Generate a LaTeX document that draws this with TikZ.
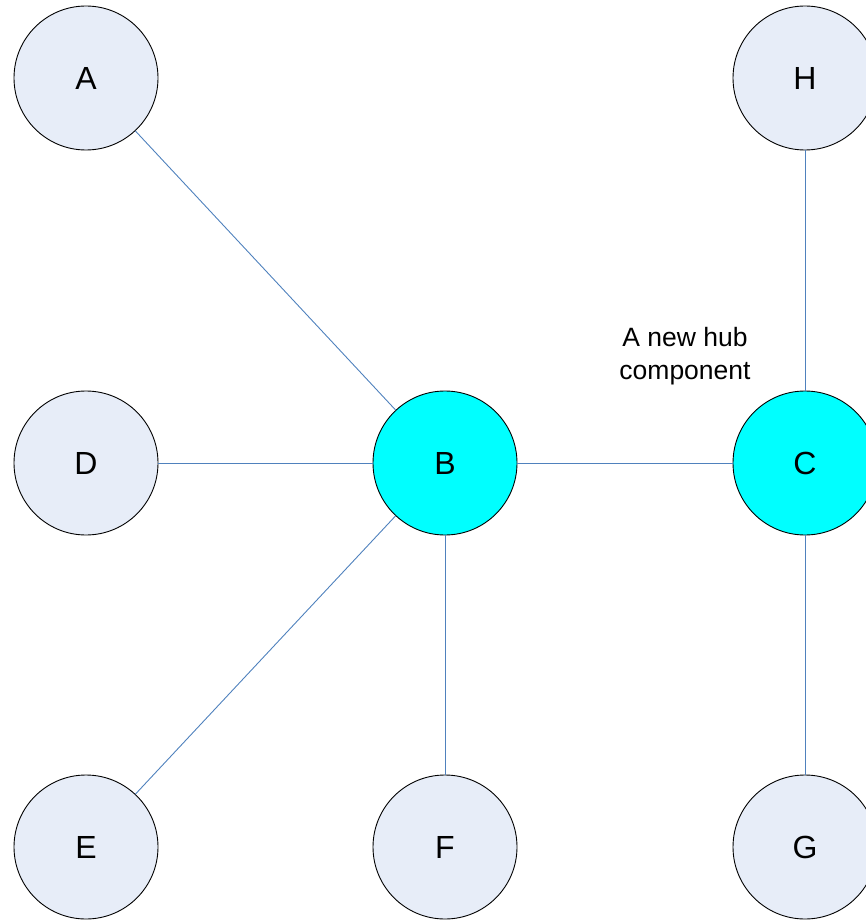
\documentclass[tikz,border=0pt]{standalone}
\usepackage{fontspec}
\setmainfont{Liberation Sans}
\definecolor{nodefill}{HTML}{E7EDF8}
\definecolor{hubfill}{HTML}{00FFFF}
\definecolor{linkblue}{HTML}{4F81BD}
\begin{document}
\begin{tikzpicture}[x=1pt,y=-1pt,
  vert/.style={circle,draw=black,line width=0.9pt,fill=nodefill,minimum size=144pt,inner sep=0pt,font=\fontsize{32}{36}\selectfont},
  hub/.style={vert,fill=hubfill},
  link/.style={draw=linkblue,line width=0.9pt}]
\useasboundingbox (0,0) rectangle (866,920);
\node[vert] (A) at (86,78) {A};
\node[vert] (H) at (805,78) {H};
\node[vert] (D) at (86,463) {D};
\node[hub] (B) at (445,463) {B};
\node[hub] (C) at (805,463) {C};
\node[vert] (E) at (86,847) {E};
\node[vert] (F) at (445,847) {F};
\node[vert] (G) at (805,847) {G};
\node[align=center,font=\fontsize{26.5}{33}\selectfont] (lbl) at (685,356) {A new hub\\component};
\draw[link] (A) -- (B);
\draw[link] (D) -- (B);
\draw[link] (E) -- (B);
\draw[link] (F) -- (B);
\draw[link] (B) -- (C);
\draw[link] (H) -- (C);
\draw[link] (G) -- (C);
\end{tikzpicture}
\end{document}
